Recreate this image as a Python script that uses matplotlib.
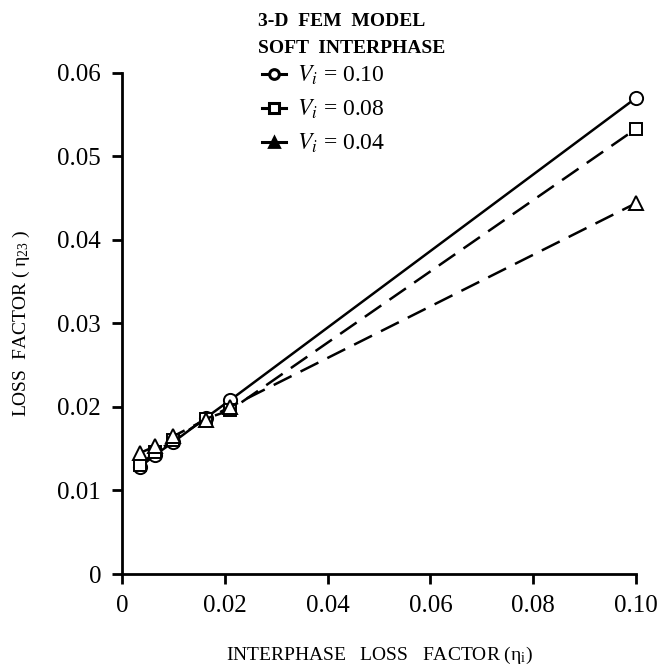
import matplotlib.pyplot as plt
from matplotlib.lines import Line2D

plt.rcParams['font.family'] = ['Liberation Serif', 'DejaVu Serif']
plt.rcParams['mathtext.fontset'] = 'stix'

# Data
eta_i = [0.0035, 0.0065, 0.0100, 0.0163, 0.0210, 0.1000]
v010 = [0.0128, 0.0143, 0.0158, 0.0187, 0.0208, 0.0570]
v008 = [0.0131, 0.0146, 0.0160, 0.0186, 0.0196, 0.0533]
v004 = [0.0145, 0.0153, 0.0165, 0.0185, 0.0200, 0.0444]
labels = ['0.10', '0.08', '0.04']
xticks = [0, 0.02, 0.04, 0.06, 0.08, 0.10]
xticklabels = ['0', '0.02', '0.04', '0.06', '0.08', '0.10']
yticks = [0, 0.01, 0.02, 0.03, 0.04, 0.05, 0.06]
yticklabels = ['0', '0.01', '0.02', '0.03', '0.04', '0.05', '0.06']

fig = plt.figure(figsize=(6.62, 6.69), dpi=100)
ax = fig.add_axes([0.1843, 0.142, 0.7764, 0.749])

lw = 1.8
ms = 9.5
ax.plot(eta_i, v010, '-', color='black', lw=lw, marker='o', ms=ms,
        mfc='white', mec='black', mew=1.4, clip_on=False, zorder=3)
ax.plot(eta_i, v008, color='black', lw=lw, ls=(0, (8, 4)), marker='s', ms=ms - 1,
        mfc='white', mec='black', mew=1.4, clip_on=False, zorder=3)
ax.plot(eta_i, v004, color='black', lw=lw, ls=(0, (8, 4)), marker='^', ms=ms,
        mfc='white', mec='black', mew=1.4, clip_on=False, zorder=3)

ax.set_xlim(0, 0.10)
ax.set_ylim(0, 0.06)
ax.set_xticks(xticks)
ax.set_xticklabels(xticklabels)
ax.set_yticks(yticks)
ax.set_yticklabels(yticklabels)
for s in ['top', 'right']:
    ax.spines[s].set_visible(False)
for s in ['left', 'bottom']:
    ax.spines[s].set_linewidth(2)
ax.tick_params(direction='out', length=7, width=2, labelsize=18, pad=8)

ax.set_xlabel(r'INTERPHASE   LOSS   FACTOR ($\mathregular{\eta_i}$)', fontsize=14, labelpad=20)
ax.set_ylabel(r'LOSS  FACTOR ( $\mathregular{\eta_{23}}$ )', fontsize=14, labelpad=18)

fig.text(0.39, 0.968, '3-D  FEM  MODEL', fontsize=14, fontweight='bold', va='center')
fig.text(0.39, 0.928, 'SOFT  INTERPHASE', fontsize=14, fontweight='bold', va='center')

handles = [
    Line2D([], [], color='black', lw=2.2, marker='o', ms=7, mfc='white', mec='black', mew=2.2),
    Line2D([], [], color='black', lw=2.2, marker='s', ms=6.5, mfc='white', mec='black', mew=2.2),
    Line2D([], [], color='black', lw=2.2, marker='^', ms=7, mfc='black', mec='black', mew=2),
]
leg = ax.legend(handles, [r'$V_i$ = ' + l for l in labels], loc='upper left',
                bbox_to_anchor=(0.378, 0.922), bbox_transform=fig.transFigure,
                frameon=False, fontsize=17, handlelength=1.0, handletextpad=0.5,
                labelspacing=0.45, borderpad=0)

fig.savefig('out.png', dpi=100)
